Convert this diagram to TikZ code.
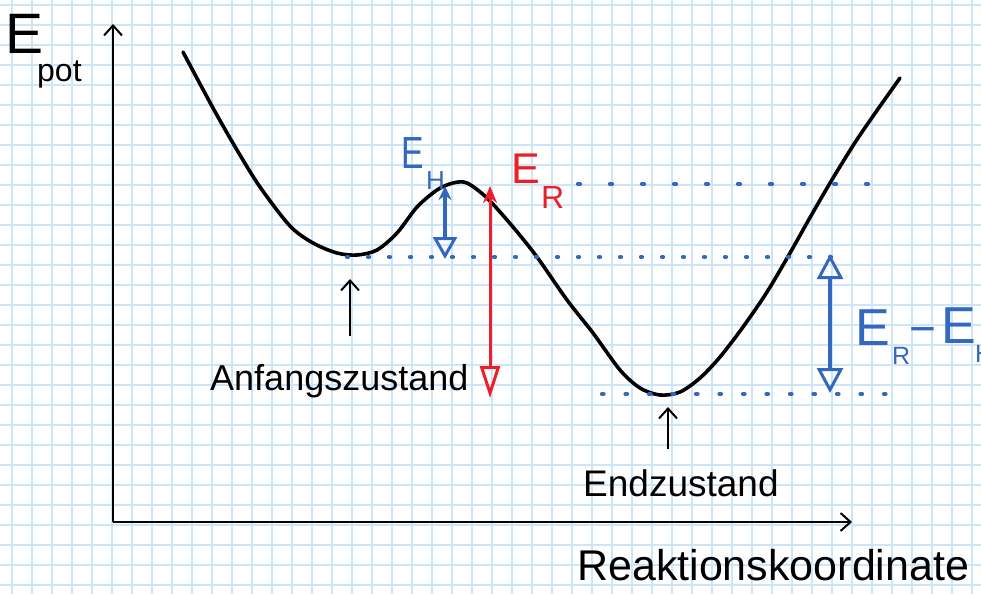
\documentclass[tikz,border=0pt]{standalone}
\usepackage{fontspec}
\setmainfont{Liberation Sans}
\usetikzlibrary{arrows.meta}
\definecolor{gridblue}{RGB}{204,229,249}
\definecolor{penblue}{RGB}{52,104,192}
\definecolor{penred}{RGB}{236,30,40}
\tikzset{
  gridline/.style={gridblue, line width=1.4pt},
  barb/.style={-{Straight Barb[length=10pt,width=18pt,line width=2pt]}},
  axisline/.style={black, line width=2pt, barb},
  curveline/.style={black, line width=3.6pt, line cap=round, line join=round},
  dotline/.style={penblue, line width=4.2pt, line cap=round},
  smallarrow/.style={black, line width=2.2pt, barb},
  ehbar/.style={penblue, line width=3.4pt, {Stealth[length=14pt,width=13pt]}-{Triangle[open,length=22pt,width=24pt,line width=3pt]}},
  diffbar/.style={penblue, line width=3.4pt, {Triangle[open,length=25pt,width=26pt,line width=3pt]}-{Triangle[open,length=25pt,width=26pt,line width=3pt]}},
  redbar/.style={penred, line width=3pt, {Stealth[length=17pt,width=14pt]}-{Triangle[open,length=32pt,width=20pt,line width=3pt]}},
  lbl/.style={inner sep=0pt, anchor=base west},
}
\begin{document}
\begin{tikzpicture}[x=1pt,y=-1pt]
\useasboundingbox (0,0) rectangle (981,594);
\clip (0,0) rectangle (981,594);
\fill[white] (0,0) rectangle (981,594);
% grid paper
\foreach \i in {0,...,48} \draw[gridline] ({12+20*\i},0) -- ({12+20*\i},594);
\foreach \j in {0,...,29} \draw[gridline] (0,{5+20*\j}) -- (981,{5+20*\j});

% axes
\coordinate (O) at (113,522);
\coordinate (ytop) at (113,24);
\coordinate (xend) at (852,522);
\draw[axisline] (O) -- (ytop);
\draw[axisline] (O) -- (xend);

% energy curve
\draw[curveline] plot[smooth, tension=0.5] coordinates {
 (183,52) (213,108) (237,150) (260,187) (290,226) (313,243) (337,253)
 (357,255) (377,250) (397,233) (417,207) (437,190) (453,183) (467,183)
 (487,198) (513,227) (537,257) (567,300) (593,333) (620,370) (640,388)
 (660,395) (680,392) (700,378) (720,357) (743,327) (767,292) (790,253)
 (812,214) (833,178) (856,141) (878,109) (900,78)};

% dotted level lines
\coordinate (midL) at (347,257);  \coordinate (midR) at (850,257);
\coordinate (topL) at (578,184);  \coordinate (topR) at (868,184);
\coordinate (botL) at (602,394);  \coordinate (botR) at (895,394);
\draw[dotline, dash pattern=on 1pt off 20pt] (midL) -- (midR);
\draw[dotline, dash pattern=on 2pt off 30pt] (topL) -- (topR);
\draw[dotline, dash pattern=on 1.5pt off 22pt] (botL) -- (botR);

% E_H arrow
\coordinate (ehTop) at (445,186);
\coordinate (ehBot) at (445,259);
\draw[ehbar] (ehTop) -- (ehBot);
% E_R arrow
\coordinate (erTop) at (490,186);
\coordinate (erBot) at (490,398);
\draw[redbar] (erTop) -- (erBot);
% E_R - E_H arrow
\coordinate (dTop) at (830,254);
\coordinate (dBot) at (830,393);
\draw[diffbar] (dTop) -- (dBot);

% small pointer arrows
\coordinate (aTail) at (350,336);
\coordinate (aTip) at (350,279);
\draw[smallarrow] (aTail) -- (aTip);
\coordinate (eTail) at (668,449);
\coordinate (eTip) at (668,407);
\draw[smallarrow] (eTail) -- (eTip);

% labels
\node[lbl, font=\fontsize{57}{60}\selectfont] (EpotE) at (5,53) {E};
\node[lbl, font=\fontsize{32}{34}\selectfont] (EpotS) at (37,81) {pot};

\node[lbl, penblue, xscale=0.75, font=\fontsize{45}{48}\selectfont] (EHE) at (401,168) {E};
\node[lbl, penblue, font=\fontsize{26}{28}\selectfont] (EHS) at (426,189) {H};

\node[lbl, penred, font=\fontsize{43}{46}\selectfont] (ERE) at (511,183) {E};
\node[lbl, penred, font=\fontsize{32}{34}\selectfont] (ERS) at (541,208) {R};

\node[lbl, penblue, font=\fontsize{52}{55}\selectfont] (DE1) at (855,345) {E};
\node[lbl, penblue, font=\fontsize{25}{27}\selectfont] (DS1) at (892,364) {R};
\node[lbl, penblue, font=\fontsize{46}{48}\selectfont] (DM) at (909,344) {−};
\node[lbl, penblue, font=\fontsize{52}{55}\selectfont] (DE2) at (941,343) {E};
\node[lbl, penblue, font=\fontsize{25}{27}\selectfont] (DS2) at (975,362) {H};

\node[lbl, font=\fontsize{36}{40}\selectfont] (start) at (210,390) {Anfangszustand};
\node[lbl, font=\fontsize{37}{40}\selectfont] (end) at (583,496) {Endzustand};
\node[lbl, font=\fontsize{43}{46}\selectfont] (rk) at (577,580) {Reaktionskoordinate};
\end{tikzpicture}
\end{document}
